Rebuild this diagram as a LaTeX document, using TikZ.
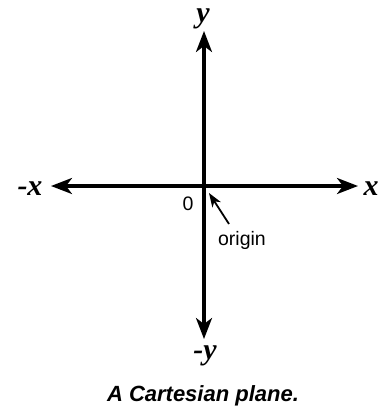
\documentclass[tikz,border=0pt]{standalone}
\usepackage{fontspec}
\setmainfont{Liberation Serif}
\setsansfont{Liberation Sans}
\usetikzlibrary{arrows.meta}
\begin{document}
\begin{tikzpicture}[x=1pt,y=-1pt,
  axis/.style={line width=3.2pt,-{Stealth[length=21pt,width=16pt,inset=6pt]}},
  axlabel/.style={font=\fontsize{30}{32}\selectfont\bfseries\itshape, inner sep=0pt},
  small/.style={font=\sffamily\fontsize{19.5}{21}\selectfont, inner sep=0pt},
  pointer/.style={line width=1.8pt,-{Stealth[length=14pt,width=10pt,inset=4pt]}}]
\useasboundingbox (0,0) rectangle (387,413);
\coordinate (O) at (204,186);
\coordinate (top) at (204,31);
\coordinate (bot) at (204,339);
\coordinate (left) at (51,186);
\coordinate (right) at (358,186);
\draw[axis] (O) -- (top);
\draw[axis] (O) -- (bot);
\draw[axis] (O) -- (left);
\draw[axis] (O) -- (right);
\node[axlabel] (ly) at (203,19) {y};
\node[axlabel] (lny) at (205,356) {-y};
\node[axlabel] (lnx) at (30,189) {-x};
\node[axlabel] (lx) at (371,189) {x};
\node[small] (zero) at (188,204) {0};
\node[small] (orig) at (242,240) {origin};
\coordinate (tail) at (229,224);
\coordinate (tip) at (209,193);
\draw[pointer] (tail) -- (tip);
\node[font=\sffamily\fontsize{22}{24}\selectfont\bfseries\itshape, inner sep=0pt] (cap) at (203,396) {A Cartesian plane.};
\end{tikzpicture}
\end{document}
